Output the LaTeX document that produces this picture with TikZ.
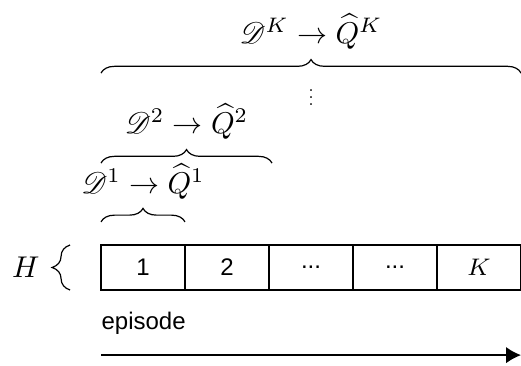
\documentclass[tikz,border=0pt]{standalone}
\usepackage{amsmath}
\usepackage{mathrsfs}
\usepackage{fontspec}
\setsansfont{Liberation Sans}
\usetikzlibrary{arrows.meta, positioning, decorations.pathreplacing}

\begin{document}
\begin{tikzpicture}[
    x=0.3333pt, y=-0.3333pt,
    line width=0.4pt,
    celda/.style={draw, rectangle, minimum width=28pt, minimum height=15pt, outer sep=0pt, inner sep=0pt, font=\sffamily\footnotesize},
    llave/.style={decorate, decoration={brace, amplitude=4.5pt, raise=#1}},
    etiqueta/.style={inner sep=1pt},
    seta/.style={-{Latex[length=5pt, width=5.5pt]}, line width=0.6pt}
]
    \useasboundingbox (0,0) rectangle (521,366);

    \node[celda, anchor=north west] (b1) at (101,245) {1};
    \node[celda, right=0pt of b1] (b2) {2};
    \node[celda, right=0pt of b2] (b3) {...};
    \node[celda, right=0pt of b3] (b4) {...};
    \node[celda, right=0pt of b4] (b5) {$K$};

    \draw[llave=7.7pt] (b1.north west) -- node[etiqueta, above=14pt] (d1) {$\mathscr{D}^1 \to \widehat{Q}^1$} (b1.north east);
    \draw[llave=27.3pt] (b1.north west) -- node[etiqueta, above=34pt] (d2) {$\mathscr{D}^2 \to \widehat{Q}^2$} ([xshift=1pt]b2.north east);
    \draw[llave=57.3pt] (b1.north west) -- node[etiqueta, above=64pt] (dk) {$\mathscr{D}^K \to \widehat{Q}^K$} (b5.north east);
    \node[scale=0.6] (pontos) at ([yshift=51pt]b3.north) {$\vdots$};

    \draw[llave=10.3pt, decoration={amplitude=6pt}] (b1.south west) -- node[left=17pt] (altura) {$H$} (b1.north west);

    \node[below=7pt of b1.south west, anchor=north west, inner sep=0pt, font=\sffamily\footnotesize] (ep) {episode};
    \coordinate[below=21.7pt of b1.south west] (t0);
    \coordinate[below=21.7pt of b5.south east] (t1);
    \draw[seta] (t0) -- (t1);
\end{tikzpicture}
\end{document}
